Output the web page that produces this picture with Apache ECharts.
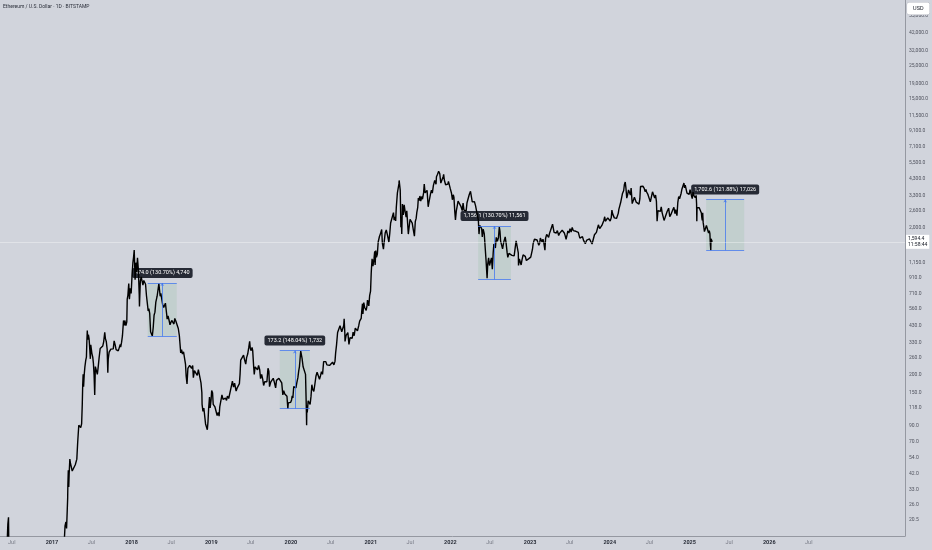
<!DOCTYPE html>
<html><head><meta charset="utf-8">
<script src="https://cdn.jsdelivr.net/npm/echarts@6/dist/echarts.min.js"></script>
<style>html,body{margin:0;padding:0;background:#d1d4dc}#c{width:932px;height:550px}</style>
</head><body><div id="c"></div>
<script>
// ---- price data (approximate daily-chart turning points, USD) ----
const eth2016 = [
['2016-05-08',9.4],['2016-05-15',12.4],['2016-05-22',13.8],['2016-05-29',12.9],['2016-06-05',13.9],['2016-06-10',14.6],['2016-06-12',17.6],['2016-06-13',19.2],['2016-06-15',19.6],['2016-06-16',21.3],['2016-06-17',15.4],['2016-06-18',11.8],['2016-06-22',13.4],['2016-06-29',12.6],['2016-07-10',10.6],['2016-07-20',12.6],['2016-08-02',8.6],['2016-08-20',11.2],['2016-09-10',12.0],['2016-10-01',13.2],['2016-10-20',12.0],['2016-11-10',10.6],['2016-12-01',8.6],['2016-12-20',7.6]
];
const eth2017 = [
['2017-01-05',11.2],['2017-01-20',10.6],['2017-02-05',11.2],['2017-02-20',12.8],['2017-02-27',15.2],['2017-03-02',18.6],['2017-03-06',19.8],['2017-03-09',17.9],['2017-03-12',23.5],['2017-03-14',28.6],['2017-03-15',35.3],['2017-03-17',44.5],['2017-03-19',34.2],['2017-03-21',42.5],['2017-03-24',53],['2017-03-27',49.5],['2017-03-31',50],['2017-04-04',44],['2017-04-11',43.5],['2017-04-18',48.5],['2017-04-25',53],['2017-04-29',69],['2017-05-04',90],['2017-05-09',88],['2017-05-13',87],['2017-05-17',92],['2017-05-20',125],['2017-05-22',170],['2017-05-24',200],['2017-05-26',165],['2017-05-29',200],['2017-06-01',225],['2017-06-05',250],['2017-06-08',262],['2017-06-10',335],['2017-06-12',398],['2017-06-14',345],['2017-06-17',372],['2017-06-20',352],['2017-06-22',320],['2017-06-26',255],['2017-06-28',318],['2017-07-03',278],['2017-07-07',262],['2017-07-10',238],['2017-07-13',200],['2017-07-16',145],['2017-07-19',226],['2017-07-24',230],['2017-07-28',200],['2017-08-01',225],['2017-08-05',258],['2017-08-10',300],['2017-08-14',295],['2017-08-18',292],['2017-08-22',312],['2017-08-26',333],['2017-08-31',386],['2017-09-03',350],['2017-09-07',335],['2017-09-11',297],['2017-09-14',205],['2017-09-16',255],['2017-09-20',283],['2017-09-24',285],['2017-09-28',297],['2017-10-04',292],['2017-10-09',298],['2017-10-13',338],['2017-10-18',316],['2017-10-22',295],['2017-10-27',297],['2017-11-01',289],['2017-11-06',297],['2017-11-10',320],['2017-11-12',306],['2017-11-16',330],['2017-11-20',365],['2017-11-25',465],['2017-11-29',430],['2017-12-01',465],['2017-12-06',430],['2017-12-10',455],['2017-12-12',650],['2017-12-15',690],['2017-12-19',830],['2017-12-22',650],['2017-12-26',770],['2017-12-30',710]
];
const eth2018 = [
['2018-01-03',940],['2018-01-07',1150],['2018-01-10',1250],['2018-01-13',1400],['2018-01-16',1010],['2018-01-17',880],['2018-01-20',1150],['2018-01-24',990],['2018-01-28',1240],['2018-02-01',1030],['2018-02-05',700],['2018-02-06',580],['2018-02-10',860],['2018-02-14',920],['2018-02-18',930],['2018-02-22',810],['2018-02-26',870],['2018-03-02',870],['2018-03-06',820],['2018-03-10',690],['2018-03-14',610],['2018-03-18',540],['2018-03-21',560],['2018-03-25',520],['2018-03-29',390],['2018-04-02',385],['2018-04-06',365],['2018-04-10',415],['2018-04-14',505],['2018-04-18',530],['2018-04-22',620],['2018-04-25',615],['2018-04-28',680],['2018-05-02',675],['2018-05-06',830],['2018-05-09',750],['2018-05-12',680],['2018-05-15',710],['2018-05-20',715],['2018-05-23',600],['2018-05-28',570],['2018-05-31',580],['2018-06-05',610],['2018-06-10',525],['2018-06-13',475],['2018-06-17',500],['2018-06-22',465],['2018-06-26',435],['2018-06-30',450],['2018-07-04',465],['2018-07-09',470],['2018-07-14',440],['2018-07-18',480],['2018-07-23',460],['2018-07-26',470],['2018-07-30',455],['2018-08-03',410],['2018-08-08',365],['2018-08-11',320],['2018-08-14',280],['2018-08-18',295],['2018-08-22',275],['2018-08-27',285],['2018-08-31',285],['2018-09-05',235],['2018-09-08',195],['2018-09-12',172],['2018-09-16',220],['2018-09-20',225],['2018-09-24',230],['2018-09-28',230],['2018-10-03',220],['2018-10-08',230],['2018-10-11',190],['2018-10-16',212],['2018-10-22',205],['2018-10-29',197],['2018-11-03',215],['2018-11-07',220],['2018-11-12',212],['2018-11-15',175],['2018-11-19',150],['2018-11-20',125],['2018-11-24',112],['2018-11-28',118],['2018-12-02',115],['2018-12-06',92],['2018-12-10',90],['2018-12-14',84],['2018-12-17',95],['2018-12-20',117],['2018-12-24',140],['2018-12-27',118],['2018-12-31',133]
];
const eth2019 = [
['2019-01-03',155],['2019-01-07',150],['2019-01-10',125],['2019-01-14',128],['2019-01-18',120],['2019-01-23',117],['2019-01-28',105],['2019-02-02',110],['2019-02-06',104],['2019-02-09',120],['2019-02-14',122],['2019-02-19',145],['2019-02-24',135],['2019-03-01',135],['2019-03-07',138],['2019-03-12',133],['2019-03-16',142],['2019-03-22',137],['2019-03-28',140],['2019-04-02',163],['2019-04-08',180],['2019-04-13',164],['2019-04-18',174],['2019-04-25',154],['2019-04-30',162],['2019-05-05',162],['2019-05-10',173],['2019-05-13',200],['2019-05-16',250],['2019-05-20',245],['2019-05-24',250],['2019-05-29',270],['2019-06-03',250],['2019-06-08',235],['2019-06-12',260],['2019-06-17',275],['2019-06-22',305],['2019-06-26',335],['2019-06-29',300],['2019-07-03',290],['2019-07-07',305],['2019-07-10',290],['2019-07-14',230],['2019-07-17',200],['2019-07-21',225],['2019-07-26',220],['2019-08-01',215],['2019-08-06',230],['2019-08-11',215],['2019-08-15',187],['2019-08-20',200],['2019-08-25',185],['2019-08-29',168],['2019-09-03',178],['2019-09-08',180],['2019-09-13',178],['2019-09-18',220],['2019-09-22',210],['2019-09-25',165],['2019-10-01',178],['2019-10-07',180],['2019-10-12',188],['2019-10-17',177],['2019-10-23',162],['2019-10-27',182],['2019-11-02',182],['2019-11-07',188],['2019-11-11',186],['2019-11-16',183],['2019-11-20',175],['2019-11-25',145],['2019-11-29',155],['2019-12-04',147],['2019-12-09',148],['2019-12-14',142],['2019-12-18',117],['2019-12-20',128],['2019-12-25',125],['2019-12-31',129]
];
const eth2020 = [
['2020-01-04',134],['2020-01-07',143],['2020-01-10',138],['2020-01-14',165],['2020-01-19',167],['2020-01-24',162],['2020-01-28',175],['2020-02-02',190],['2020-02-06',212],['2020-02-09',225],['2020-02-13',265],['2020-02-15',288],['2020-02-18',282],['2020-02-21',258],['2020-02-26',225],['2020-03-01',220],['2020-03-05',228],['2020-03-08',200],['2020-03-10',200],['2020-03-12',112],['2020-03-13',90],['2020-03-14',123],['2020-03-16',110],['2020-03-20',132],['2020-03-25',136],['2020-03-29',125],['2020-04-02',141],['2020-04-06',170],['2020-04-10',158],['2020-04-15',153],['2020-04-20',172],['2020-04-25',195],['2020-04-30',207],['2020-05-05',205],['2020-05-09',212],['2020-05-11',185],['2020-05-15',194],['2020-05-20',209],['2020-05-25',200],['2020-05-30',244],['2020-06-04',243],['2020-06-09',244],['2020-06-14',232],['2020-06-20',230],['2020-06-26',230],['2020-06-30',225],['2020-07-05',228],['2020-07-10',242],['2020-07-16',232],['2020-07-21',245],['2020-07-24',280],['2020-07-28',316],['2020-08-02',385],['2020-08-03',375],['2020-08-08',395],['2020-08-13',428],['2020-08-17',430],['2020-08-21',390],['2020-08-26',385],['2020-08-30',430],['2020-09-01',478],['2020-09-04',385],['2020-09-05',335],['2020-09-10',368],['2020-09-15',365],['2020-09-18',385],['2020-09-23',320],['2020-09-28',355],['2020-10-03',345],['2020-10-08',352],['2020-10-12',387],['2020-10-17',366],['2020-10-22',413],['2020-10-27',403],['2020-11-01',395],['2020-11-04',385],['2020-11-07',430],['2020-11-11',460],['2020-11-15',447],['2020-11-18',480],['2020-11-21',545],['2020-11-24',605],['2020-11-26',515],['2020-11-30',615],['2020-12-04',570],['2020-12-08',575],['2020-12-11',545],['2020-12-15',590],['2020-12-17',640],['2020-12-21',610],['2020-12-23',585],['2020-12-27',690],['2020-12-31',737]
];
const eth2021 = [
['2021-01-03',975],['2021-01-04',1040],['2021-01-07',1220],['2021-01-10',1190],['2021-01-11',1090],['2021-01-13',1120],['2021-01-16',1230],['2021-01-19',1375],['2021-01-21',1110],['2021-01-24',1390],['2021-01-27',1250],['2021-01-31',1310],['2021-02-04',1590],['2021-02-07',1610],['2021-02-10',1740],['2021-02-14',1800],['2021-02-17',1850],['2021-02-20',1935],['2021-02-23',1570],['2021-02-28',1420],['2021-03-03',1570],['2021-03-08',1830],['2021-03-13',1920],['2021-03-17',1810],['2021-03-21',1780],['2021-03-25',1590],['2021-03-29',1820],['2021-04-02',2140],['2021-04-06',2110],['2021-04-10',2140],['2021-04-15',2520],['2021-04-18',2240],['2021-04-22',2360],['2021-04-25',2210],['2021-04-28',2740],['2021-05-03',3430],['2021-05-07',3480],['2021-05-10',3950],['2021-05-11',4170],['2021-05-14',4080],['2021-05-16',3580],['2021-05-19',2000],['2021-05-21',2300],['2021-05-23',1800],['2021-05-26',2880],['2021-05-30',2430],['2021-06-03',2850],['2021-06-07',2590],['2021-06-12',2350],['2021-06-15',2590],['2021-06-18',2230],['2021-06-22',1800],['2021-06-26',1830],['2021-06-30',2270],['2021-07-06',2320],['2021-07-10',2140],['2021-07-15',1920],['2021-07-20',1740],['2021-07-24',2190],['2021-07-28',2300],['2021-07-31',2530],['2021-08-04',2720],['2021-08-07',3160],['2021-08-12',3050],['2021-08-14',3270],['2021-08-18',3020],['2021-08-22',3240],['2021-08-26',3110],['2021-08-31',3430],['2021-09-03',3940],['2021-09-06',3930],['2021-09-07',3430],['2021-09-12',3400],['2021-09-16',3570],['2021-09-21',2760],['2021-09-24',2930],['2021-09-28',2850],['2021-10-02',3390],['2021-10-06',3580],['2021-10-10',3420],['2021-10-15',3860],['2021-10-21',4170],['2021-10-24',4090],['2021-10-27',3930],['2021-10-29',4420],['2021-11-03',4600],['2021-11-08',4810],['2021-11-10',4730],['2021-11-13',4650],['2021-11-16',4250],['2021-11-18',4000],['2021-11-22',4090],['2021-11-26',4040],['2021-11-29',4440],['2021-12-01',4590],['2021-12-04',4200],['2021-12-07',4310],['2021-12-10',3900],['2021-12-13',3780],['2021-12-16',3960],['2021-12-20',3940],['2021-12-23',4110],['2021-12-27',4040],['2021-12-31',3680]
];
const eth2022 = [
['2022-01-03',3770],['2022-01-06',3410],['2022-01-10',3080],['2022-01-14',3330],['2022-01-17',3210],['2022-01-21',2560],['2022-01-24',2250],['2022-01-28',2590],['2022-02-01',2790],['2022-02-05',3020],['2022-02-10',3080],['2022-02-14',2930],['2022-02-18',2780],['2022-02-24',2600],['2022-02-28',2920],['2022-03-04',2620],['2022-03-08',2570],['2022-03-14',2590],['2022-03-18',2940],['2022-03-23',3030],['2022-03-28',3330],['2022-04-03',3520],['2022-04-07',3240],['2022-04-11',2980],['2022-04-16',3060],['2022-04-21',2990],['2022-04-26',2810],['2022-04-30',2730],['2022-05-05',2750],['2022-05-09',2240],['2022-05-12',1800],['2022-05-15',2060],['2022-05-20',2010],['2022-05-24',1970],['2022-05-27',1720],['2022-05-31',1940],['2022-06-05',1810],['2022-06-09',1790],['2022-06-13',1210],['2022-06-15',1230],['2022-06-18',900],['2022-06-21',1130],['2022-06-25',1240],['2022-06-29',1100],['2022-07-03',1070],['2022-07-08',1240],['2022-07-12',1040],['2022-07-16',1350],['2022-07-19',1540],['2022-07-23',1550],['2022-07-26',1450],['2022-07-30',1710],['2022-08-04',1610],['2022-08-09',1700],['2022-08-13',2010],['2022-08-16',1880],['2022-08-19',1610],['2022-08-24',1660],['2022-08-28',1430],['2022-09-02',1580],['2022-09-06',1560],['2022-09-09',1720],['2022-09-13',1570],['2022-09-18',1340],['2022-09-21',1250],['2022-09-26',1330],['2022-09-30',1330],['2022-10-05',1350],['2022-10-10',1290],['2022-10-14',1300],['2022-10-20',1280],['2022-10-25',1460],['2022-10-29',1620],['2022-11-05',1630],['2022-11-08',1340],['2022-11-09',1100],['2022-11-13',1220],['2022-11-18',1210],['2022-11-21',1110],['2022-11-25',1200],['2022-11-30',1300],['2022-12-05',1260],['2022-12-10',1270],['2022-12-15',1190],['2022-12-20',1220],['2022-12-25',1220],['2022-12-31',1200]
];
const eth2023 = [
['2023-01-04',1255],['2023-01-08',1265],['2023-01-12',1420],['2023-01-15',1550],['2023-01-18',1510],['2023-01-21',1660],['2023-01-25',1610],['2023-01-29',1640],['2023-02-02',1640],['2023-02-06',1620],['2023-02-10',1510],['2023-02-14',1560],['2023-02-17',1690],['2023-02-21',1640],['2023-02-25',1590],['2023-03-01',1660],['2023-03-05',1565],['2023-03-10',1400],['2023-03-13',1680],['2023-03-18',1790],['2023-03-22',1740],['2023-03-27',1710],['2023-03-31',1820],['2023-04-05',1910],['2023-04-10',1910],['2023-04-14',2100],['2023-04-17',2070],['2023-04-21',1850],['2023-04-26',1870],['2023-05-01',1830],['2023-05-06',1900],['2023-05-12',1760],['2023-05-16',1820],['2023-05-22',1810],['2023-05-28',1910],['2023-06-03',1890],['2023-06-07',1830],['2023-06-11',1750],['2023-06-15',1660],['2023-06-20',1790],['2023-06-23',1890],['2023-06-28',1830],['2023-07-03',1960],['2023-07-08',1860],['2023-07-13',2000],['2023-07-18',1900],['2023-07-24',1860],['2023-07-30',1880],['2023-08-05',1830],['2023-08-10',1850],['2023-08-17',1690],['2023-08-23',1670],['2023-08-29',1730],['2023-09-03',1630],['2023-09-11',1550],['2023-09-18',1640],['2023-09-24',1590],['2023-09-30',1670],['2023-10-05',1650],['2023-10-12',1540],['2023-10-17',1570],['2023-10-23',1780],['2023-10-28',1780],['2023-11-01',1850],['2023-11-06',1890],['2023-11-10',2080],['2023-11-16',1960],['2023-11-21',1960],['2023-11-26',2060],['2023-12-01',2090],['2023-12-05',2230],['2023-12-09',2360],['2023-12-12',2200],['2023-12-18',2200],['2023-12-23',2320],['2023-12-28',2380]
];
const eth2024 = [
['2024-01-03',2210],['2024-01-08',2330],['2024-01-11',2620],['2024-01-14',2480],['2024-01-18',2470],['2024-01-22',2320],['2024-01-26',2270],['2024-02-01',2300],['2024-02-05',2300],['2024-02-09',2490],['2024-02-12',2660],['2024-02-16',2800],['2024-02-20',2950],['2024-02-24',2990],['2024-02-28',3380],['2024-03-02',3430],['2024-03-05',3560],['2024-03-08',3900],['2024-03-12',4070],['2024-03-15',3730],['2024-03-19',3160],['2024-03-23',3330],['2024-03-27',3590],['2024-04-01',3500],['2024-04-05',3320],['2024-04-08',3700],['2024-04-13',2900],['2024-04-17',2980],['2024-04-23',3200],['2024-04-27',3250],['2024-05-01',2970],['2024-05-06',3060],['2024-05-10',2910],['2024-05-14',2880],['2024-05-18',3120],['2024-05-21',3790],['2024-05-27',3890],['2024-06-01',3810],['2024-06-07',3680],['2024-06-11',3500],['2024-06-15',3620],['2024-06-18',3480],['2024-06-24',3350],['2024-06-30',3430],['2024-07-05',2980],['2024-07-09',3060],['2024-07-15',3490],['2024-07-20',3510],['2024-07-25',3170],['2024-07-29',3320],['2024-08-02',2990],['2024-08-05',2200],['2024-08-09',2600],['2024-08-15',2570],['2024-08-20',2570],['2024-08-24',2760],['2024-08-28',2520],['2024-09-02',2540],['2024-09-06',2230],['2024-09-11',2340],['2024-09-16',2290],['2024-09-20',2560],['2024-09-27',2700],['2024-10-02',2360],['2024-10-07',2440],['2024-10-10',2370],['2024-10-15',2610],['2024-10-21',2740],['2024-10-26',2480],['2024-10-29',2640],['2024-11-04',2400],['2024-11-08',2960],['2024-11-12',3240],['2024-11-16',3130],['2024-11-20',3070],['2024-11-23',3400],['2024-11-27',3650],['2024-12-02',3650],['2024-12-06',4000],['2024-12-09',3710],['2024-12-12',3880],['2024-12-16',3980],['2024-12-20',3420],['2024-12-25',3490],['2024-12-30',3350]
];
const eth2025 = [
['2025-01-03',3610],['2025-01-06',3690],['2025-01-09',3320],['2025-01-13',3140],['2025-01-17',3470],['2025-01-20',3300],['2025-01-24',3320],['2025-01-27',3180],['2025-01-31',3300],['2025-02-02',2880],['2025-02-03',2200],['2025-02-04',2730],['2025-02-06',2690],['2025-02-10',2660],['2025-02-14',2720],['2025-02-20',2740],['2025-02-24',2500],['2025-02-26',2330],['2025-02-28',2230],['2025-03-02',2510],['2025-03-04',2170],['2025-03-07',2140],['2025-03-10',1870],['2025-03-13',1860],['2025-03-16',1890],['2025-03-19',2060],['2025-03-23',2000],['2025-03-26',2010],['2025-03-29',1830],['2025-04-01',1900],['2025-04-04',1810],['2025-04-06',1550],['2025-04-08',1400],['2025-04-09',1670],['2025-04-12',1640],['2025-04-15',1594.4]
];
// ---- price range measurements ----
const boxStart = ['2018-03-16','2019-11-11','2022-05-08','2025-03-18'];
const boxEnd   = ['2018-07-27','2020-03-28','2022-10-05','2025-09-08'];
const boxLow   = [362.6, 117.0, 884.5, 1397.0];
const boxHigh  = [836.6, 290.2, 2040.6, 3099.6];
const boxText  = ['474.0 (130.70%) 4,740', '173.2 (148.04%) 1,732', '1,156.1 (130.70%) 11,561', '1,702.6 (121.88%) 17,026'];
// ---- axes ----
const yTicks = [20.5, 26, 33, 42, 54, 70, 90, 118, 150, 200, 260, 330, 430, 560, 710, 910, 1150, 2000, 2600, 3300, 4300, 5500, 7100, 9100, 11500, 15000, 19000, 25000, 32000, 42000, 55000];
const xTicks = ['2016-07','2017-01','2017-07','2018-01','2018-07','2019-01','2019-07','2020-01','2020-07','2021-01','2021-07','2022-01','2022-07','2023-01','2023-07','2024-01','2024-07','2025-01','2025-07','2026-01','2026-07'];
const xMin = '2016-05-08', xMax = '2027-09-15';
const yMin = 15.9, yMax = 70400;
const lastPrice = 1594.4;
const countdown = '11:58:44';
const titleText = 'Ethereum / U.S. Dollar · 1D · BITSTAMP';

function ts(s) { const p = s.split('-').map(Number); return new Date(p[0], p[1] - 1, p[2] || 1).getTime(); }
const fmt1 = v => v.toLocaleString('en-US', {minimumFractionDigits: 1, maximumFractionDigits: 1});
const priceData = [].concat(eth2016, eth2017, eth2018, eth2019, eth2020, eth2021, eth2022, eth2023, eth2024, eth2025)
  .map(d => [ts(d[0]), d[1]]);

const areaData = boxStart.map((s, i) => [
  { name: boxText[i], coord: [ts(s), boxLow[i]] },
  { coord: [ts(boxEnd[i]), boxHigh[i]] }
]);
const lineData = [];
boxStart.forEach((s, i) => {
  const a = ts(s), b = ts(boxEnd[i]), m = (a + b) / 2;
  lineData.push([{ coord: [a, boxHigh[i]] }, { coord: [b, boxHigh[i]] }]);
  lineData.push([{ coord: [a, boxLow[i]] }, { coord: [b, boxLow[i]] }]);
  lineData.push([{ coord: [m, boxLow[i]], symbol: 'none' }, { coord: [m, boxHigh[i]], symbol: 'arrow', symbolSize: [3, 3] }]);
});

const chart = echarts.init(document.getElementById('c'), null, { renderer: 'canvas' });
chart.setOption({
  backgroundColor: '#d1d4dc',
  animation: false,
  title: { text: titleText, left: 3, top: 4, padding: 0, textStyle: { fontSize: 5, fontWeight: 'normal', color: '#2a2e39', fontFamily: 'Roboto' } },
  grid: { left: 0, right: 27, top: 0, bottom: 14 },
  xAxis: {
    type: 'value', min: ts(xMin), max: ts(xMax),
    axisLine: { show: true, lineStyle: { color: '#9598a1', width: 1 } },
    axisTick: { show: false }, splitLine: { show: false },
    axisLabel: {
      customValues: xTicks.map(ts), margin: 4, fontFamily: 'Roboto',
      formatter: v => { const d = new Date(v); return d.getMonth() === 0 ? '{y|' + d.getFullYear() + '}' : '{m|Jul}'; },
      rich: { y: { fontSize: 5.5, fontWeight: 'bold', color: '#2a2e39' }, m: { fontSize: 5.5, color: '#787b86' } }
    }
  },
  yAxis: {
    type: 'log', position: 'right', min: yMin, max: yMax,
    axisLine: { show: true, lineStyle: { color: '#9598a1', width: 1 } },
    axisTick: { show: false }, splitLine: { show: false },
    axisLabel: { customValues: yTicks, formatter: v => fmt1(v), fontSize: 5, color: '#50535e', margin: 4, fontFamily: 'Roboto' }
  },
  series: [
    {
      name: 'ranges', type: 'line', data: [], z: 1, silent: true,
      markArea: {
        silent: true,
        itemStyle: { color: 'rgba(90,170,110,0.12)' },
        label: { show: true, position: 'top', distance: 5, color: '#ffffff', fontSize: 5.5, fontFamily: 'Roboto', backgroundColor: 'rgba(19,23,34,0.9)', padding: [2, 3], borderRadius: 2 },
        data: areaData
      },
      markLine: {
        silent: true, symbol: ['none', 'none'],
        label: { show: false },
        lineStyle: { color: '#3d74f0', width: 1, type: 'solid', opacity: 0.75 },
        data: lineData
      }
    },
    {
      name: 'ETHUSD', type: 'line', data: priceData, showSymbol: false, symbol: 'none', clip: true, z: 3,
      lineStyle: { color: '#000000', width: 1.4 },
      markLine: {
        silent: true, symbol: ['none', 'none'],
        lineStyle: { color: 'rgba(255,255,255,0.35)', width: 1, type: 'solid' },
        label: { show: true, position: 'end', distance: 1, formatter: fmt1(lastPrice) + '\n' + countdown, color: '#131722', fontSize: 5, lineHeight: 6, backgroundColor: '#ffffff', padding: [1, 2], fontFamily: 'Roboto' },
        data: [{ yAxis: lastPrice }]
      }
    }
  ],
  graphic: [
    { type: 'text', right: 2, top: 2, z: 100, style: { text: 'USD', fontSize: 5.5, fontFamily: 'Roboto', fill: '#131722', backgroundColor: '#ffffff', padding: [3, 6], borderRadius: 2, borderColor: '#b2b5be', borderWidth: 0.5 } }
  ]
});
</script>
</body></html>
